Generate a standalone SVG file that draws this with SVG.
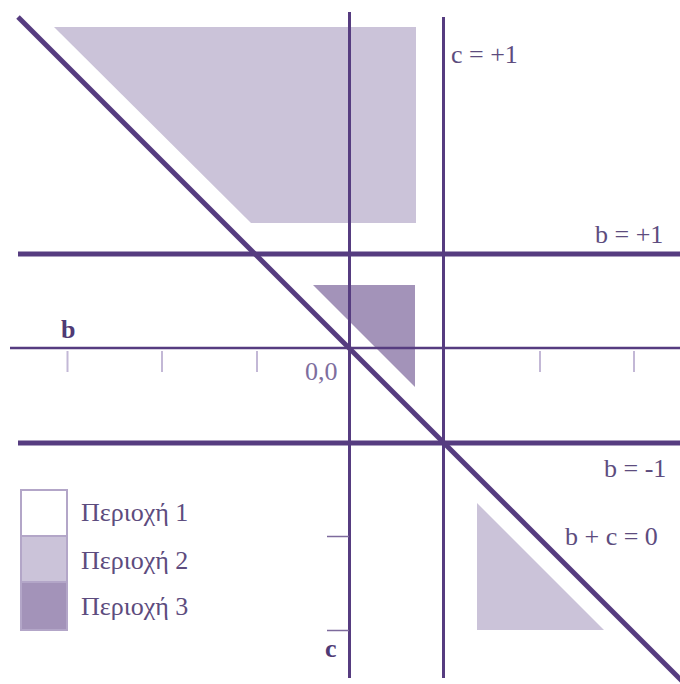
<svg xmlns="http://www.w3.org/2000/svg" width="680" height="684" viewBox="0 0 680 684">
  <style>
    .ln { stroke: #563c80; fill: none; stroke-linecap: butt; }
    .thick { stroke-width: 5; }
    .mid { stroke-width: 3; }
    .thin { stroke-width: 2.5; }
    .tick { stroke: #c3b8d6; stroke-width: 2; fill: none; }
    .ctick { stroke: #7d6a9c; stroke-width: 1.5; fill: none; }
    .r2 { fill: #cbc3d9; }
    .r3 { fill: #a393b9; }
    text { font-family: 'Liberation Serif', serif; font-size: 26px; }
    .lbl { fill: #5d4c7e; }
    .ax { font-weight: bold; fill: #4f3a75; }
    .org { fill: #7e6e9e; }
    .leg { fill: #5d4c7e; }
    .box { stroke: #b3a6c8; stroke-width: 2; }
  </style>

  <g id="regions">
    <polygon id="region2-top" class="r2" points="54,27 416,27 416,223 251,223"/>
    <polygon id="region3-mid" class="r3" points="313,285 415,285 415,387"/>
    <polygon id="region2-bottom" class="r2" points="477,503 477,630 604,630"/>
  </g>

  <g id="connectors">
    <line id="b-axis" class="ln thin" x1="10" y1="348" x2="680" y2="348"/>
    <line id="c-axis" class="ln mid" x1="349.5" y1="12" x2="349.5" y2="678"/>
    <line id="c-plus1" class="ln mid" x1="443.5" y1="17" x2="443.5" y2="678"/>
    <line id="b-plus1" class="ln thick" x1="18" y1="254" x2="680" y2="254"/>
    <line id="b-minus1" class="ln thick" x1="18" y1="443" x2="680" y2="443"/>
    <line id="b-plus-c" class="ln thick" x1="18" y1="17" x2="684" y2="683"/>
    <g id="b-ticks">
      <line class="tick" x1="67.5" y1="351" x2="67.5" y2="372"/>
      <line class="tick" x1="162" y1="351" x2="162" y2="372"/>
      <line class="tick" x1="257" y1="351" x2="257" y2="372"/>
      <line class="tick" x1="540" y1="351" x2="540" y2="372"/>
      <line class="tick" x1="634" y1="351" x2="634" y2="372"/>
    </g>
    <g id="c-ticks">
      <line class="ctick" x1="327" y1="536.5" x2="349" y2="536.5"/>
      <line class="ctick" x1="327" y1="630.5" x2="349" y2="630.5"/>
    </g>
  </g>

  <g id="labels">
    <text id="lbl-c1" class="lbl" x="451" y="63">c = +1</text>
    <text id="lbl-b1" class="lbl" x="595" y="243">b = +1</text>
    <text id="lbl-bm1" class="lbl" x="604" y="477">b = -1</text>
    <text id="lbl-bc" class="lbl" x="565" y="545">b + c = 0</text>
    <text id="lbl-b" class="ax" x="61" y="338">b</text>
    <text id="lbl-c" class="ax" x="325" y="657">c</text>
    <text id="lbl-origin" class="org" x="305" y="380">0,0</text>
  </g>

  <g id="legend">
    <g id="legend-1">
      <rect class="box" x="21" y="490" width="46" height="46" fill="#ffffff"/>
      <text class="leg" x="81" y="521">Περιοχή 1</text>
    </g>
    <g id="legend-2">
      <rect class="box r2" x="21" y="536" width="46" height="46"/>
      <text class="leg" x="81" y="569">Περιοχή 2</text>
    </g>
    <g id="legend-3">
      <rect class="box r3" x="21" y="582" width="46" height="48"/>
      <text class="leg" x="81" y="615">Περιοχή 3</text>
    </g>
  </g>
</svg>
